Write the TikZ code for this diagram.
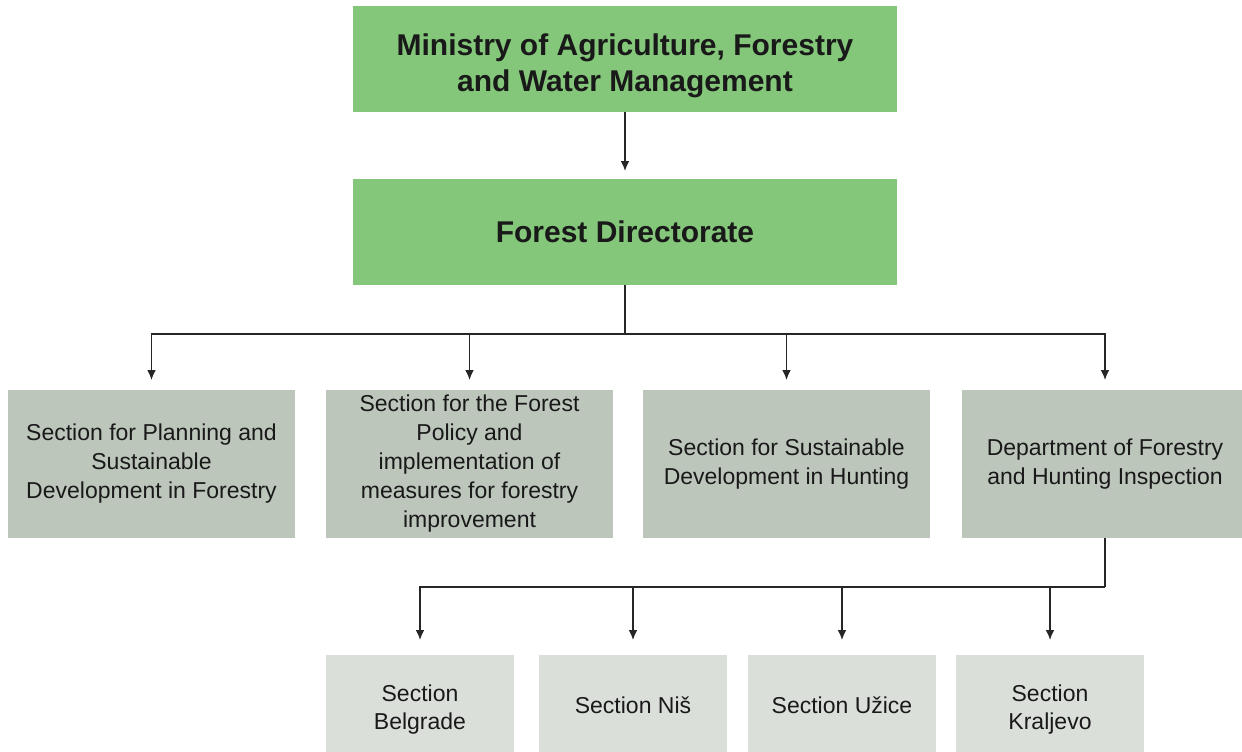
\documentclass[tikz,border=0pt]{standalone}
\usepackage{fontspec}
\setmainfont{Liberation Sans}
\usetikzlibrary{positioning,arrows.meta}
\definecolor{leafgreen}{HTML}{84C77A}
\definecolor{sagegrey}{HTML}{BCC6BB}
\definecolor{palegrey}{HTML}{DADFDA}
\begin{document}
\begin{tikzpicture}[x=0.5pt,y=-0.5pt,
        every node/.style={align=center,inner sep=0pt,outer sep=0pt,text=black!90},
        head/.style={fill=leafgreen,minimum width=272pt,minimum height=53pt,
                     font=\bfseries\fontsize{15}{18}\selectfont},
        section/.style={fill=sagegrey,minimum width=143.5pt,minimum height=74pt,
                     font=\fontsize{11.5}{14.5}\selectfont},
        office/.style={fill=palegrey,minimum width=94pt,minimum height=50pt,
                     font=\fontsize{11.5}{14}\selectfont},
        line/.style={line width=0.7pt,draw=black!85},
        link/.style={line,-{Latex[length=5pt,width=4.4pt]}}]
   \useasboundingbox (0,0) rectangle (1242,751);
   % top of the chart
   \node[head] (ministry) at (625,59) {\rule{0pt}{18pt}Ministry of Agriculture, Forestry\\and Water Management};
   \node[head] (directorate) at (625,232) {Forest Directorate};
   % sections
   \node[section] (plan) at (151.5,464) {Section for Planning and\\Sustainable\\Development in Forestry};
   \node[section] (policy) at (469.5,464) {Section for the Forest\\Policy and\\implementation of\\measures for forestry\\improvement};
   \node[section] (hunting) at (786.5,464) {Section for Sustainable\\Development in Hunting};
   \node[section] (inspect) at (1105,464) {Department of Forestry\\and Hunting Inspection};
   % regional offices
   \node[office] (belgrade) at (420,705) {\rule{0pt}{12.5pt}Section\\Belgrade};
   \node[office] (nis) at (633,705) {Section Niš};
   \node[office] (uzice) at (842,705) {Section Užice};
   \node[office] (kraljevo) at (1050,705) {\rule{0pt}{12.5pt}Section\\Kraljevo};
   \coordinate (hub) at (625,334);
   \coordinate (subhub) at (1105,587);
   \draw[link,shorten >=4pt] (ministry) -- (directorate);
   \draw[line] (directorate) -- (hub);
   \foreach \s in {plan,policy,hunting,inspect}
      \draw[link,shorten >=5pt] (hub) -| (\s.north);
   \draw[line] (inspect) -- (subhub);
   \foreach \s in {belgrade,nis,uzice,kraljevo}
      \draw[link,shorten >=7.5pt] (subhub) -| (\s.north);
\end{tikzpicture}
\end{document}
